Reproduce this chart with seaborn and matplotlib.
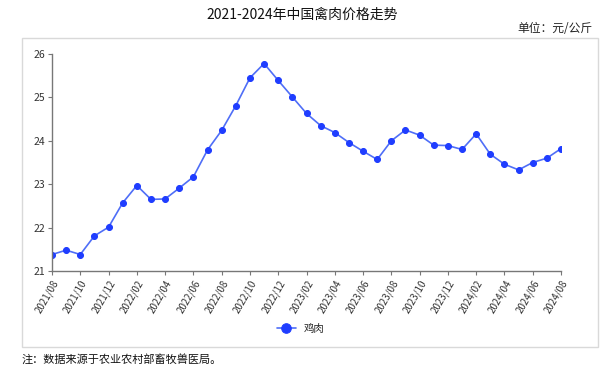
import matplotlib
matplotlib.use("Agg")
import matplotlib.pyplot as plt
import seaborn as sns
import pandas as pd
from matplotlib.patches import Rectangle

months = []
for y in (2021, 2022, 2023, 2024):
    for m in range(1, 13):
        if (y == 2021 and m < 8) or (y == 2024 and m > 8):
            continue
        months.append(f"{y}/{m:02d}")

prices = [21.38, 21.48, 21.38, 21.81, 22.01, 22.57, 22.97, 22.65, 22.66, 22.91,
          23.17, 23.79, 24.24, 24.81, 25.45, 25.78, 25.39, 25.01, 24.63, 24.35,
          24.19, 23.96, 23.76, 23.57, 24.00, 24.25, 24.13, 23.90, 23.89, 23.80,
          24.16, 23.69, 23.46, 23.33, 23.50, 23.60, 23.82]
series_name = "鸡肉"
yticks = [21, 22, 23, 24, 25, 26]

df = pd.DataFrame({"idx": range(len(months)), "month": months, "price": prices})

sns.set_theme(style="white")
plt.rcParams['font.family'] = ['Noto Sans CJK SC', 'DejaVu Sans']

W, H = 604, 377
fig = plt.figure(figsize=(W / 100, H / 100), dpi=100)
ax = fig.add_axes([52 / W, 1 - 271 / H, (561 - 52) / W, (271 - 54) / H])

sns.lineplot(data=df, x="idx", y="price", ax=ax, color="#4f6ef7", linewidth=1.2,
             marker="o", markersize=4.3, markerfacecolor="#1f3dff",
             markeredgecolor="#1f3dff", label=series_name)

ax.set_xlim(0, len(months) - 1)
ax.set_ylim(21, 26)
ax.set_yticks(yticks)
ax.set_yticklabels([str(v) for v in yticks], fontsize=7.5, color="#333333")
ticks = list(range(0, len(months), 2))
ax.set_xticks(ticks)
ax.set_xticklabels([months[i] for i in ticks], rotation=60, ha="right",
                   rotation_mode="anchor", fontsize=7, color="#333333")
ax.set_xlabel("")
ax.set_ylabel("")
for s in ("top", "right"):
    ax.spines[s].set_visible(False)
for s in ("left", "bottom"):
    ax.spines[s].set_color("#777777")
    ax.spines[s].set_linewidth(1.0)
ax.tick_params(axis="both", which="major", length=3, width=0.8, color="#777777",
               pad=2, left=True, bottom=True)

leg = ax.legend(loc="center", bbox_to_anchor=((301 - 52) / (561 - 52), (271 - 329) / (271 - 54)),
                frameon=False, fontsize=7.5, handlelength=1.8, markerscale=1.6)

fig.patches.append(Rectangle((22 / W, 1 - 347 / H), (598 - 22) / W, (347 - 38) / H,
                             transform=fig.transFigure, fill=False,
                             edgecolor="#d9d9d9", linewidth=1.0))

fig.text(302 / W, 1 - 15 / H, "2021-2024年中国禽肉价格走势", ha="center", va="center",
         fontsize=10, color="#111111")
fig.text(592 / W, 1 - 29 / H, "单位：元/公斤", ha="right", va="center",
         fontsize=8.5, color="#222222")
fig.text(22 / W, 1 - 359 / H, "注：数据来源于农业农村部畜牧兽医局。", ha="left", va="center",
         fontsize=8, color="#111111")

fig.savefig("out.png", dpi=100)
